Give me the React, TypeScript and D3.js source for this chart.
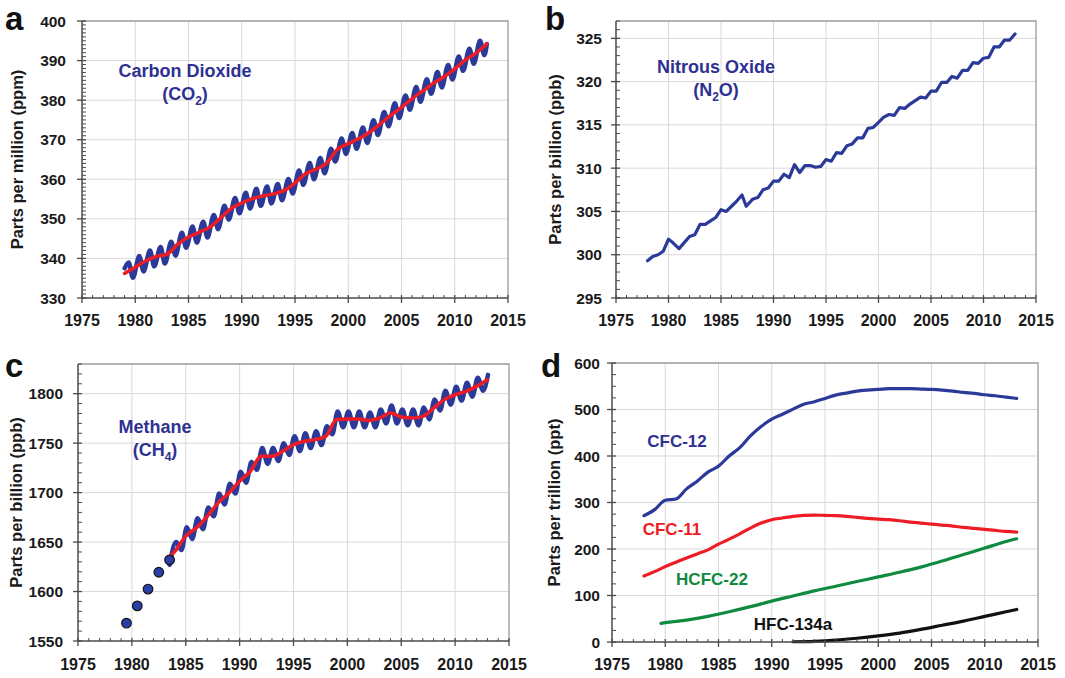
import React from "react";
import * as d3 from "d3";

const FONT = "'Liberation Sans', Arial, Helvetica, sans-serif";
const TITLE_BLUE = "#2e3192";
const LINE_BLUE = "#2b3a98";
const RED = "#ee1c25";
const GREEN = "#108a3e";
const BLACK = "#111111";

// ---------- tick labels ----------
const xTickYears = [1975, 1980, 1985, 1990, 1995, 2000, 2005, 2010, 2015];
const co2Ticks = [330, 340, 350, 360, 370, 380, 390, 400];
const n2oTicks = [295, 300, 305, 310, 315, 320, 325];
const ch4Ticks = [1550, 1600, 1650, 1700, 1750, 1800];
const haloTicks = [0, 100, 200, 300, 400, 500, 600];

// ---------- panel a: CO2 ----------
const co2TrendYears = [1979, 1980, 1981, 1982, 1983, 1984, 1985, 1986, 1987, 1988, 1989, 1990, 1991, 1992, 1993, 1994, 1995, 1996, 1997, 1998, 1999, 2000, 2001, 2002, 2003, 2004, 2005, 2006, 2007, 2008, 2009, 2010, 2011, 2012, 2013];
const co2Trend = [336.2, 337.8, 339.4, 340.5, 341.1, 343.6, 345.4, 346.6, 347.9, 350.2, 352.6, 354.0, 355.1, 355.8, 356.3, 357.2, 359.1, 361.4, 362.6, 364.2, 367.6, 369.0, 370.3, 371.9, 374.0, 376.2, 378.2, 380.4, 382.3, 384.3, 385.9, 387.9, 390.2, 391.9, 394.2];
const co2CycleYears = [1979, 1980, 1981, 1982, 1983, 1984, 1985, 1986, 1987, 1988, 1989, 1990, 1991, 1992, 1993, 1994, 1995, 1996, 1997, 1998, 1999, 2000, 2001, 2002, 2003, 2004, 2005, 2006, 2007, 2008, 2009, 2010, 2011, 2012];
const co2SeasonMax = [339.0, 340.6, 342.0, 342.9, 344.2, 346.5, 348.1, 349.3, 351.0, 353.3, 355.3, 356.6, 357.6, 358.2, 358.8, 360.1, 362.2, 364.1, 365.4, 367.7, 370.3, 371.7, 373.1, 374.9, 377.0, 379.2, 381.2, 383.3, 385.3, 387.1, 388.9, 391.0, 393.0, 395.0];
const co2SeasonMin = [335.1, 336.7, 338.0, 338.7, 340.7, 342.7, 344.0, 345.3, 347.4, 349.8, 351.4, 352.6, 353.3, 353.9, 354.7, 356.4, 358.6, 360.0, 361.5, 364.5, 366.4, 367.7, 369.2, 371.2, 373.4, 375.5, 377.6, 379.6, 381.6, 383.2, 385.2, 387.4, 389.2, 391.4];
const co2MonthlyStart = [1979.0, 337.5];
const co2MonthlyEnd = [2013.02, 394.2];

// ---------- panel b: N2O ----------
const n2oYears = [1978.0, 1978.5, 1979.0, 1979.5, 1980.0, 1980.4, 1981.0, 1981.5, 1982.0, 1982.5, 1983.0, 1983.5, 1984.0, 1984.5, 1985.0, 1985.5, 1986.0, 1986.5, 1987.0, 1987.4, 1988.0, 1988.5, 1989.0, 1989.5, 1990.0, 1990.5, 1991.0, 1991.5, 1992.0, 1992.5, 1993.0, 1993.5, 1994.0, 1994.5, 1995.0, 1995.5, 1996.0, 1996.5, 1997.0, 1997.5, 1998.0, 1998.5, 1999.0, 1999.5, 2000.0, 2000.5, 2001.0, 2001.5, 2002.0, 2002.5, 2003.0, 2003.5, 2004.0, 2004.5, 2005.0, 2005.5, 2006.0, 2006.5, 2007.0, 2007.5, 2008.0, 2008.5, 2009.0, 2009.5, 2010.0, 2010.5, 2011.0, 2011.5, 2012.0, 2012.5, 2013.0];
const n2oValues = [299.3, 299.8, 300.0, 300.4, 301.8, 301.4, 300.7, 301.4, 302.1, 302.3, 303.5, 303.5, 303.9, 304.3, 305.2, 305.0, 305.6, 306.2, 306.9, 305.6, 306.4, 306.6, 307.5, 307.7, 308.5, 308.5, 309.3, 308.9, 310.4, 309.5, 310.3, 310.3, 310.1, 310.2, 311.0, 310.8, 311.8, 311.7, 312.6, 312.8, 313.5, 313.5, 314.6, 314.7, 315.3, 315.9, 316.2, 316.1, 317.0, 316.9, 317.4, 317.8, 318.2, 318.1, 318.9, 318.9, 319.9, 319.9, 320.6, 320.4, 321.3, 321.3, 322.2, 322.1, 322.7, 322.8, 324.0, 324.0, 324.8, 324.8, 325.5];

// ---------- panel c: CH4 ----------
const ch4DotYears = [1979.5, 1980.5, 1981.5, 1982.5, 1983.5];
const ch4DotValues = [1568, 1585.5, 1602.5, 1619.5, 1632];
const ch4TrendYears = [1983.6, 1984, 1985, 1986, 1987, 1988, 1989, 1990, 1991, 1992, 1993, 1994, 1995, 1996, 1997, 1998, 1999, 2000, 2001, 2002, 2003, 2004, 2005, 2006, 2007, 2008, 2009, 2010, 2011, 2012, 2013];
const ch4Trend = [1635.8, 1640.8, 1656, 1664.4, 1676, 1689.6, 1699.7, 1711.5, 1721.6, 1736.7, 1736.7, 1741.8, 1748.5, 1751.9, 1753.6, 1757, 1773.8, 1774.4, 1774.4, 1773, 1775.4, 1780.5, 1776.4, 1775.4, 1777, 1785.5, 1794, 1799, 1802.4, 1807.4, 1814];
const ch4CycleYears = [1984, 1985, 1986, 1987, 1988, 1989, 1990, 1991, 1992, 1993, 1994, 1995, 1996, 1997, 1998, 1999, 2000, 2001, 2002, 2003, 2004, 2005, 2006, 2007, 2008, 2009, 2010, 2011, 2012];
const ch4SeasonMax = [1650, 1665, 1674, 1685, 1699, 1709, 1721, 1731, 1745, 1745, 1750, 1757, 1760, 1762, 1767, 1782, 1782, 1782, 1781, 1784, 1788, 1784, 1784, 1786, 1794, 1803, 1807, 1811, 1816];
const ch4SeasonMin = [1642, 1653, 1663, 1676, 1688, 1699, 1710, 1723, 1729, 1732, 1738, 1742, 1745, 1748, 1759, 1766, 1766, 1766, 1766, 1770, 1770, 1768, 1768, 1774, 1783, 1789, 1793, 1797, 1803];
const ch4MonthlyStart = [1983.5, 1627];
const ch4MonthlyEnd = [2013.05, 1819];

// ---------- panel d: halocarbons ----------
const cfc12Years = [1978, 1979, 1980, 1981, 1982, 1983, 1984, 1985, 1986, 1987, 1988, 1989, 1990, 1991, 1992, 1993, 1994, 1995, 1996, 1997, 1998, 1999, 2000, 2001, 2002, 2003, 2004, 2005, 2006, 2007, 2008, 2009, 2010, 2011, 2012, 2013];
const cfc12Values = [271.6, 284.6, 304.8, 307.6, 329.3, 345.8, 365.3, 378.2, 399.9, 417.9, 443.1, 463.3, 479.1, 489.9, 500.7, 511.5, 516.6, 523.8, 531, 535.3, 539.6, 541.8, 543.2, 544.7, 544.7, 544.7, 544, 543.2, 541.8, 539.6, 536.7, 534.6, 531.7, 529.5, 526.7, 523.8];
const cfc11Years = cfc12Years;
const cfc11Values = [141.9, 151.3, 162.1, 171.5, 180.8, 189.5, 198.1, 210.4, 221.2, 232.7, 245, 255.8, 263, 266.6, 270.2, 272.3, 273, 272.3, 271.6, 270.2, 268, 265.9, 264.4, 263, 260.8, 257.9, 255.8, 253.6, 251.4, 249.3, 246.4, 244.2, 242.1, 239.9, 237.8, 236.3];
const hcfc22Years = [1979.6, 1980, 1982, 1984, 1986, 1988, 1990, 1992, 1994, 1996, 1998, 2000, 2002, 2004, 2006, 2008, 2010, 2012, 2013];
const hcfc22Values = [40, 41.5, 47, 55, 65, 76, 88, 99, 110, 120, 130, 140, 150, 161, 174, 188, 202, 216, 222];
const hfc134aYears = [1992, 1994, 1996, 1998, 2000, 2002, 2004, 2006, 2008, 2010, 2012, 2013];
const hfc134aValues = [0.5, 1.5, 4, 8, 13, 19, 27, 36, 45, 55, 65, 70];

type Spec = {
  left: number; right: number; top: number; bottom: number;
  yDomain: [number, number]; yTicks: number[]; yMinor: number;
  letter: string; letterX: number; letterY: number;
  yTitle: string; yTitleX: number; labelEnd: number; xLabelY: number;
};

const specA: Spec = { left: 82, right: 508, top: 21, bottom: 298, yDomain: [330, 400], yTicks: co2Ticks, yMinor: 1, letter: "a", letterX: 5, letterY: 30, yTitle: "Parts per million (ppm)", yTitleX: 23, labelEnd: 66, xLabelY: 326 };
const specB: Spec = { left: 616, right: 1036, top: 21, bottom: 298, yDomain: [295, 327], yTicks: n2oTicks, yMinor: 1, letter: "b", letterX: 545, letterY: 30, yTitle: "Parts per billion (ppb)", yTitleX: 561, labelEnd: 602, xLabelY: 326 };
const specC: Spec = { left: 78, right: 509, top: 364, bottom: 641, yDomain: [1550, 1830], yTicks: ch4Ticks, yMinor: 10, letter: "c", letterX: 5, letterY: 377, yTitle: "Parts per billion (ppb)", yTitleX: 22, labelEnd: 63, xLabelY: 670 };
const specD: Spec = { left: 612, right: 1038, top: 363, bottom: 642, yDomain: [0, 600], yTicks: haloTicks, yMinor: 25, letter: "d", letterX: 541, letterY: 377, yTitle: "Parts per trillion (ppt)", yTitleX: 560, labelEnd: 600, xLabelY: 670 };

function scales(s: Spec) {
  const x = d3.scaleLinear().domain([1975, 2015]).range([s.left, s.right]);
  const y = d3.scaleLinear().domain(s.yDomain).range([s.bottom, s.top]);
  return { x, y };
}

function Grid({ s }: { s: Spec }) {
  const { x, y } = scales(s);
  return (
    <g>
      <rect x={s.left} y={s.top} width={s.right - s.left} height={s.bottom - s.top} fill="#ffffff" />
      {xTickYears.slice(1, -1).map((t) => (
        <line key={"gx" + t} x1={x(t)} x2={x(t)} y1={s.top} y2={s.bottom} stroke="#d9d9d9" strokeWidth={1} />
      ))}
      {s.yTicks.filter((t) => t > s.yDomain[0] && t < s.yDomain[1]).map((t) => (
        <line key={"gy" + t} x1={s.left} x2={s.right} y1={y(t)} y2={y(t)} stroke="#d9d9d9" strokeWidth={1} />
      ))}
      <path d={`M${s.left},${s.top}H${s.right}V${s.bottom}`} fill="none" stroke="#9a9a9a" strokeWidth={1.3} />
    </g>
  );
}

function Axes({ s }: { s: Spec }) {
  const { x, y } = scales(s);
  const minorY = d3.range(s.yDomain[0], s.yDomain[1] + 1e-6, s.yMinor).filter((v) => !s.yTicks.includes(v));
  const minorX = d3.range(1975, 2016, 1).filter((v) => !xTickYears.includes(v));
  const ax = "#4a4a4a";
  return (
    <g>
      <line x1={s.left} x2={s.left} y1={s.top} y2={s.bottom} stroke={ax} strokeWidth={1.5} />
      <line x1={s.left} x2={s.right} y1={s.bottom} y2={s.bottom} stroke={ax} strokeWidth={1.5} />
      {minorY.map((v) => (
        <line key={"my" + v} x1={s.left} x2={s.left + 4} y1={y(v)} y2={y(v)} stroke={ax} strokeWidth={1} />
      ))}
      {s.yTicks.map((v) => (
        <line key={"My" + v} x1={s.left - 5} x2={s.left + 4} y1={y(v)} y2={y(v)} stroke={ax} strokeWidth={1.3} />
      ))}
      {minorX.map((v) => (
        <line key={"mx" + v} x1={x(v)} x2={x(v)} y1={s.bottom - 3} y2={s.bottom} stroke={ax} strokeWidth={1} />
      ))}
      {xTickYears.map((v) => (
        <line key={"Mx" + v} x1={x(v)} x2={x(v)} y1={s.bottom - 3} y2={s.bottom + 5} stroke={ax} strokeWidth={1.3} />
      ))}
      {s.yTicks.map((v) => (
        <text key={"ly" + v} x={s.labelEnd} y={y(v)} dy="0.36em" textAnchor="end" fontSize={15.5} fontWeight="bold" fill="#1a1a1a">{v}</text>
      ))}
      {xTickYears.map((v) => (
        <text key={"lx" + v} x={x(v)} y={s.xLabelY} textAnchor="middle" fontSize={16} fontWeight="bold" fill="#1a1a1a">{v}</text>
      ))}
      <text transform={`translate(${s.yTitleX},${(s.top + s.bottom) / 2}) rotate(-90)`} textAnchor="middle" fontSize={16.5} fontWeight="bold" fill="#1a1a1a">{s.yTitle}</text>
      <text x={s.letterX} y={s.letterY} fontSize={33} fontWeight="bold" fill="#111">{s.letter}</text>
    </g>
  );
}

function Formula({ x, y, name, pre, sub, post }: { x: number; y: number; name: string; pre: string; sub: string; post: string }) {
  return (
    <g fill={TITLE_BLUE} fontWeight="bold" fontSize={18} textAnchor="middle">
      <text x={x} y={y}>{name}</text>
      <text x={x} y={y + 23}>
        <tspan>{pre}</tspan>
        <tspan fontSize={12} dy={5}>{sub}</tspan>
        <tspan dy={-5}>{post}</tspan>
      </text>
    </g>
  );
}

function seasonalPoints(start: number[], years: number[], maxs: number[], mins: number[], end: number[], tMax: number, tMin: number): [number, number][] {
  const pts: [number, number][] = [[start[0], start[1]]];
  years.forEach((yr, i) => {
    pts.push([yr + tMax, maxs[i]]);
    pts.push([yr + tMin, mins[i]]);
  });
  pts.push([end[0], end[1]]);
  return pts;
}

export default function App() {
  const A = scales(specA);
  const B = scales(specB);
  const C = scales(specC);
  const D = scales(specD);

  const lineA = d3.line<[number, number]>().x((d) => A.x(d[0])).y((d) => A.y(d[1])).curve(d3.curveMonotoneX);
  const lineB = d3.line<[number, number]>().x((d) => B.x(d[0])).y((d) => B.y(d[1])).curve(d3.curveLinear);
  const lineC = d3.line<[number, number]>().x((d) => C.x(d[0])).y((d) => C.y(d[1])).curve(d3.curveMonotoneX);
  const lineD = d3.line<[number, number]>().x((d) => D.x(d[0])).y((d) => D.y(d[1])).curve(d3.curveMonotoneX);

  const co2Monthly = seasonalPoints(co2MonthlyStart, co2CycleYears, co2SeasonMax, co2SeasonMin, co2MonthlyEnd, 0.38, 0.78);
  const co2TrendPts = co2TrendYears.map((yr, i) => [yr, co2Trend[i]] as [number, number]);
  const n2oPts = n2oYears.map((yr, i) => [yr, n2oValues[i]] as [number, number]);
  const ch4Monthly = seasonalPoints(ch4MonthlyStart, ch4CycleYears, ch4SeasonMax, ch4SeasonMin, ch4MonthlyEnd, 0.1, 0.6);
  const ch4TrendPts = ch4TrendYears.map((yr, i) => [yr, ch4Trend[i]] as [number, number]);
  const zip = (xs: number[], ys: number[]) => xs.map((v, i) => [v, ys[i]] as [number, number]);

  return (
    <svg width={1065} height={678} viewBox="0 0 1065 678" style={{ position: "absolute", left: 0, top: 0, background: "#fff" }} fontFamily={FONT}>
      <rect width={1065} height={678} fill="#ffffff" />
      {/* panel a */}
      <Grid s={specA} />
      <path d={lineA(co2Monthly) || ""} fill="none" stroke={LINE_BLUE} strokeWidth={4.5} strokeLinejoin="round" strokeLinecap="round" />
      <path d={lineA(co2TrendPts) || ""} fill="none" stroke={RED} strokeWidth={3.5} strokeLinejoin="round" strokeLinecap="round" />
      <Axes s={specA} />
      <Formula x={185} y={77} name="Carbon Dioxide" pre="(CO" sub="2" post=")" />

      {/* panel b */}
      <Grid s={specB} />
      <path d={lineB(n2oPts) || ""} fill="none" stroke={LINE_BLUE} strokeWidth={3.2} strokeLinejoin="round" strokeLinecap="round" />
      <Axes s={specB} />
      <Formula x={716} y={73} name="Nitrous Oxide" pre="(N" sub="2" post="O)" />

      {/* panel c */}
      <Grid s={specC} />
      <path d={lineC(ch4Monthly) || ""} fill="none" stroke={LINE_BLUE} strokeWidth={4.5} strokeLinejoin="round" strokeLinecap="round" />
      <path d={lineC(ch4TrendPts) || ""} fill="none" stroke={RED} strokeWidth={3.5} strokeLinejoin="round" strokeLinecap="round" />
      {ch4DotYears.map((yr, i) => (
        <circle key={"dot" + yr} cx={C.x(yr)} cy={C.y(ch4DotValues[i])} r={4.8} fill="#2b3fa8" stroke="#111" strokeWidth={1.2} />
      ))}
      <Axes s={specC} />
      <Formula x={155} y={433} name="Methane" pre="(CH" sub="4" post=")" />

      {/* panel d */}
      <Grid s={specD} />
      <path d={lineD(zip(cfc12Years, cfc12Values)) || ""} fill="none" stroke={LINE_BLUE} strokeWidth={3.2} strokeLinecap="round" />
      <path d={lineD(zip(cfc11Years, cfc11Values)) || ""} fill="none" stroke={RED} strokeWidth={3.2} strokeLinecap="round" />
      <path d={lineD(zip(hcfc22Years, hcfc22Values)) || ""} fill="none" stroke={GREEN} strokeWidth={3.2} strokeLinecap="round" />
      <path d={lineD(zip(hfc134aYears, hfc134aValues)) || ""} fill="none" stroke={BLACK} strokeWidth={3.2} strokeLinecap="round" />
      <Axes s={specD} />
      <g fontWeight="bold" fontSize={17} textAnchor="middle">
        <text x={677} y={447} fill={TITLE_BLUE}>CFC-12</text>
        <text x={672} y={535} fill={RED}>CFC-11</text>
        <text x={712} y={585} fill={GREEN}>HCFC-22</text>
        <text x={793} y={630} fill={BLACK}>HFC-134a</text>
      </g>
    </svg>
  );
}
